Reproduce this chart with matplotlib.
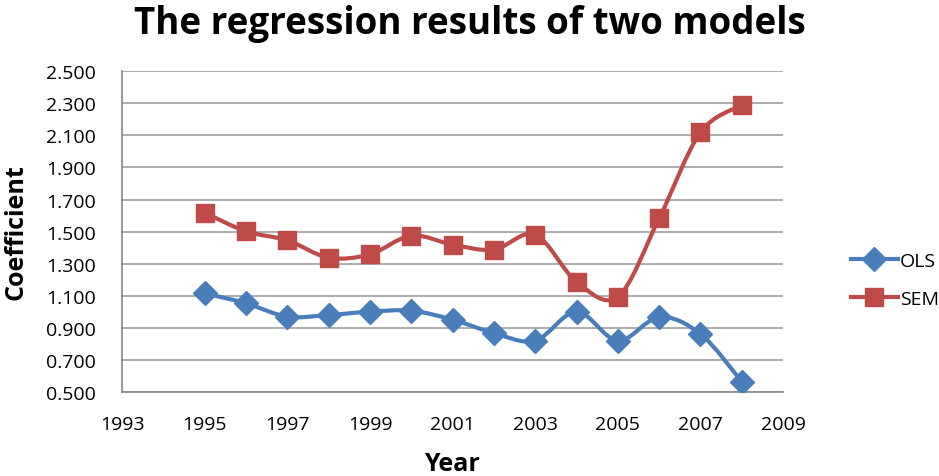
import numpy as np
import matplotlib
matplotlib.use('Agg')
import matplotlib.pyplot as plt
from matplotlib.path import Path
from matplotlib.patches import PathPatch
from matplotlib.lines import Line2D

years = [1995, 1996, 1997, 1998, 1999, 2000, 2001, 2002, 2003, 2004, 2005, 2006, 2007, 2008]
ols = [1.116, 1.054, 0.971, 0.981, 1.002, 1.008, 0.952, 0.869, 0.821, 1.002, 0.821, 0.968, 0.863, 0.566]
sem = [1.618, 1.502, 1.446, 1.338, 1.359, 1.475, 1.419, 1.388, 1.481, 1.188, 1.095, 1.583, 2.118, 2.288]

blue = '#4A7EBB'
red = '#BE4B48'
plt.rcParams['font.family'] = ['Open Sans', 'DejaVu Sans']


def smooth_path(x, y):
    # excel-style smoothed line: cubic bezier segments, catmull-rom control points
    x = np.asarray(x, float)
    y = np.asarray(y, float)
    verts = [(x[0], y[0])]
    codes = [Path.MOVETO]
    n = len(x)
    for i in range(n - 1):
        p0 = i - 1 if i > 0 else i
        p3 = i + 2 if i + 2 < n else i + 1
        c1 = (x[i] + (x[i + 1] - x[p0]) / 6, y[i] + (y[i + 1] - y[p0]) / 6)
        c2 = (x[i + 1] - (x[p3] - x[i]) / 6, y[i + 1] - (y[p3] - y[i]) / 6)
        verts += [c1, c2, (x[i + 1], y[i + 1])]
        codes += [Path.CURVE4] * 3
    return Path(verts, codes)


fig = plt.figure(figsize=(9.39, 4.77), dpi=100)
ax = fig.add_axes([0.130, 0.1755, 0.704, 0.6735])

for vals, col, mk, ms in [(ols, blue, 'D', 12.5), (sem, red, 's', 13.5)]:
    ax.add_patch(PathPatch(smooth_path(years, vals), fill=False, edgecolor=col, lw=3, zorder=3))
    ax.plot(years, vals, ls='none', marker=mk, ms=ms, color=col, zorder=4)

ax.set_xlim(1993, 2009)
ax.set_ylim(0.5, 2.5)
ax.set_xticks(np.arange(1993, 2010, 2))
ax.set_yticks(np.arange(0.5, 2.51, 0.2))
ax.set_yticklabels(['{:.3f}'.format(v) for v in np.arange(0.5, 2.51, 0.2)])
ax.tick_params(length=0, labelsize=14)
ax.tick_params(axis='y', pad=19)
ax.tick_params(axis='x', pad=16)
ax.grid(axis='y', color='#A0A0A0', lw=1.2)
ax.set_axisbelow(True)
for s in ['top', 'right']:
    ax.spines[s].set_visible(False)
for s in ['left', 'bottom']:
    ax.spines[s].set_color('#888888')
    ax.spines[s].set_linewidth(1.2)

fig.text(470 / 939, 1 - 24 / 477, 'The regression results of two models', fontsize=26.5,
         fontweight='bold', ha='center', va='center')
fig.text(452 / 939, 1 - 465 / 477, 'Year', fontsize=18, fontweight='bold', ha='center', va='center')
fig.text(16 / 939, 1 - 232 / 477, 'Coefficient', fontsize=18, fontweight='bold', ha='center',
         va='center', rotation=90)

handles = [Line2D([], [], color=blue, lw=3, marker='D', ms=12.5),
           Line2D([], [], color=red, lw=3, marker='s', ms=13.5)]
fig.legend(handles, ['OLS', 'SEM'], loc='center left', bbox_to_anchor=(0.898, 1 - 281 / 477),
           frameon=False, fontsize=14, handlelength=2.4, handletextpad=0.1, labelspacing=1.0,
           borderaxespad=0)

fig.savefig('out.png', dpi=100)
